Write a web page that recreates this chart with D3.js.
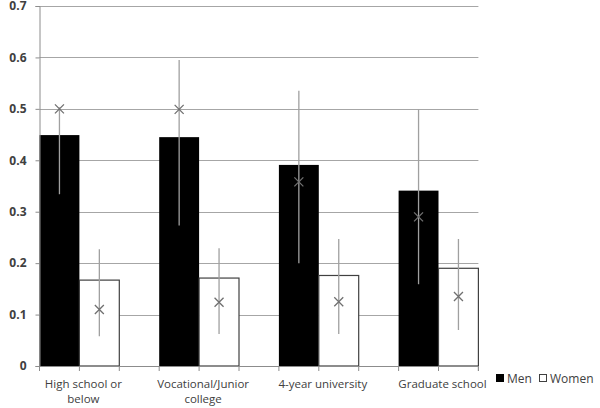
<!DOCTYPE html>
<meta charset="utf-8">
<style>
body { margin: 0; background: white; }
text { font-family: "Open Sans", sans-serif; }
.grid line { stroke: #a6a6a6; }
.axisGray path, .axisGray line { stroke: #8c8c8c; }
</style>
<script src="https://cdn.jsdelivr.net/npm/d3@7"></script>
<body>
<script>
const categories = ['High school or below', 'Vocational/Junior college', '4-year university', 'Graduate school'];
const labelLines = [['High school or', 'below'], ['Vocational/Junior', 'college'], ['4-year university'], ['Graduate school']];
const series = ['Men', 'Women'];
const menBars = [0.449, 0.445, 0.391, 0.341];
const womenBars = [0.167, 0.171, 0.176, 0.190];
// cross marker and the vertical line through it: [low, mark, high]
const menMarks = [[0.334, 0.5, 0.503], [0.273, 0.499, 0.595], [0.200, 0.358, 0.535], [0.159, 0.290, 0.499]];
const womenMarks = [[0.058, 0.110, 0.227], [0.062, 0.124, 0.229], [0.062, 0.125, 0.247], [0.070, 0.135, 0.247]];
const yTicks = [0, 0.1, 0.2, 0.3, 0.4, 0.5, 0.6, 0.7];

const width = 600, height = 408;
const plotLeft = 39.5, plotTop = 6, plotBottom = 366;

const svg = d3.select('body').append('svg')
  .attr('width', width)
  .attr('height', height);

// each group takes three slots: men, women, empty
const xScale = d3.scaleBand()
  .domain(categories)
  .range([plotLeft, plotLeft + 4 * 119.7]);

const slot = xScale.bandwidth() / 3;
const plotRight = xScale(categories[3]) + 2 * slot;

const yScale = d3.scaleLinear()
  .domain([0, 0.7])
  .range([plotBottom, plotTop]);

// grid
svg.append('g')
  .attr('class', 'grid')
  .selectAll('line')
  .data(yTicks.slice(1))
  .join('line')
    .attr('x1', plotLeft).attr('x2', plotRight)
    .attr('y1', d => Math.round(yScale(d)) + 0.5)
    .attr('y2', d => Math.round(yScale(d)) + 0.5);

const rows = categories.map((c, i) => ({
  cat: c,
  men: menBars[i], women: womenBars[i],
  mm: menMarks[i], wm: womenMarks[i]
}));

// bars
svg.append('g').selectAll('rect')
  .data(rows)
  .join('rect')
    .attr('x', d => xScale(d.cat))
    .attr('y', d => yScale(d.men))
    .attr('width', slot)
    .attr('height', d => plotBottom - yScale(d.men))
    .attr('fill', 'black');

svg.append('g').selectAll('rect')
  .data(rows)
  .join('rect')
    .attr('x', d => xScale(d.cat) + slot)
    .attr('y', d => yScale(d.women))
    .attr('width', slot)
    .attr('height', d => plotBottom - yScale(d.women))
    .attr('fill', 'white')
    .attr('stroke', '#404040')
    .attr('stroke-width', 1.2);

// lines and crosses
const marks = [];
rows.forEach(d => {
  marks.push({ x: xScale(d.cat) + slot / 2, v: d.mm });
  marks.push({ x: xScale(d.cat) + slot * 1.5, v: d.wm });
});

const mg = svg.append('g');
mg.selectAll('line.err')
  .data(marks)
  .join('line')
    .attr('class', 'err')
    .attr('x1', d => d.x).attr('x2', d => d.x)
    .attr('y1', d => yScale(d.v[0]))
    .attr('y2', d => yScale(d.v[2]))
    .attr('stroke', '#a0a0a0')
    .attr('stroke-width', 1.3);

mg.selectAll('path.cross')
  .data(marks)
  .join('path')
    .attr('class', 'cross')
    .attr('d', d => {
      const y = yScale(d.v[1]), s = 4.5;
      return `M${d.x - s},${y - s}L${d.x + s},${y + s}M${d.x - s},${y + s}L${d.x + s},${y - s}`;
    })
    .attr('stroke', '#707070')
    .attr('stroke-width', 1.3)
    .attr('fill', 'none');

// axes
svg.append('g')
  .attr('class', 'axisGray')
  .attr('transform', `translate(${plotLeft},0)`)
  .call(d3.axisLeft(yScale).tickValues(yTicks).tickSize(4).tickFormat(d => d === 0 ? '0' : d3.format('.1f')(d)))
  .call(g => g.selectAll('text')
    .attr('x', -13)
    .style('font-size', '12px')
    .style('font-weight', 'bold')
    .style('font-family', '"Open Sans", sans-serif')
    .attr('fill', '#404040'));

const tickPos = d3.range(12).map(i => plotLeft + i * slot);
tickPos.push(plotRight);
const xAxis = svg.append('g').attr('class', 'axisGray');
xAxis.append('line')
  .attr('x1', plotLeft).attr('x2', plotRight)
  .attr('y1', plotBottom + 0.5).attr('y2', plotBottom + 0.5);
xAxis.selectAll('line.tick')
  .data(tickPos)
  .join('line')
    .attr('class', 'tick')
    .attr('x1', d => d).attr('x2', d => d)
    .attr('y1', plotBottom).attr('y2', plotBottom + 5);

// category labels
svg.append('g').selectAll('text')
  .data(rows)
  .join('text')
    .attr('text-anchor', 'middle')
    .attr('fill', '#404040')
    .style('font-size', '11.5px')
    .attr('transform', d => `translate(${xScale(d.cat) + slot * 1.1},388)`)
    .each(function(d, i) {
      d3.select(this).selectAll('tspan')
        .data(labelLines[i])
        .join('tspan')
          .attr('x', 0)
          .attr('y', (t, j) => j * 15)
          .text(t => t);
    });

// legend
const legend = svg.append('g').attr('transform', 'translate(496,374)');
const lx = [0, 43];
series.forEach((s, i) => {
  legend.append('rect')
    .attr('x', lx[i] + 0.5).attr('y', 0.5)
    .attr('width', 7).attr('height', 7)
    .attr('fill', i === 0 ? 'black' : 'white')
    .attr('stroke', i === 0 ? 'black' : '#404040');
  legend.append('text')
    .attr('x', lx[i] + 11).attr('y', 8.5)
    .attr('fill', '#404040')
    .style('font-size', '12px')
    .text(s);
});
</script>
</body>
</html>
